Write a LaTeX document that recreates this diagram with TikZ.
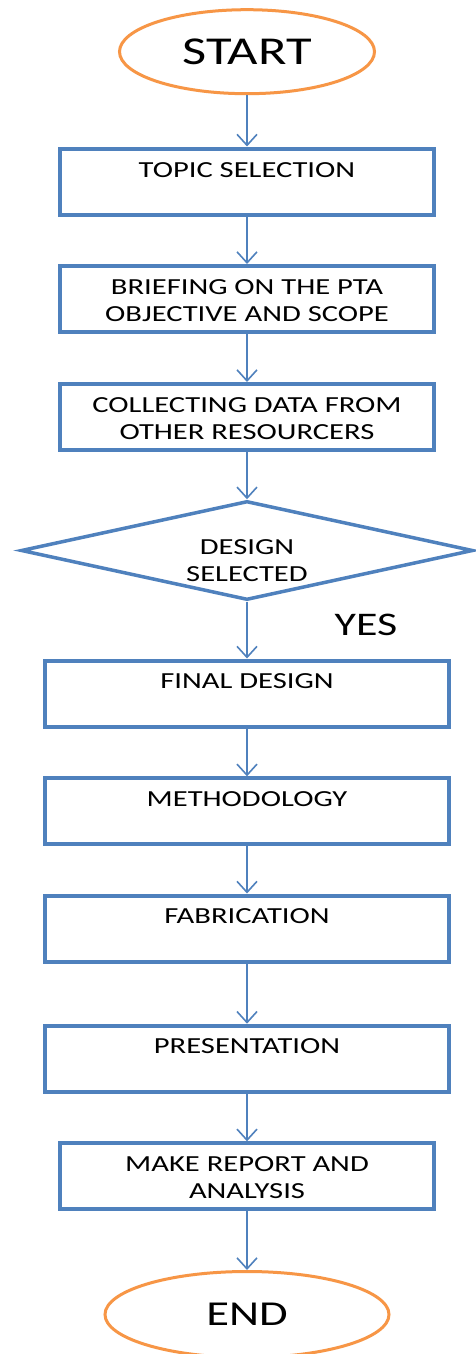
\documentclass[tikz,border=0pt]{standalone}
\usepackage{fontspec}
\setmainfont[FakeStretch=1.33]{Carlito}
\usetikzlibrary{arrows.meta,shapes.geometric}
\definecolor{flowblue}{HTML}{4F81BD}
\definecolor{termorange}{HTML}{F79646}
\begin{document}
\begin{tikzpicture}[x=1pt,y=-1pt,
  stepbox/.style={draw=flowblue,line width=4pt,minimum width=374pt,minimum height=66pt,inner sep=0pt},
  widebox/.style={stepbox,minimum width=404pt},
  terminal/.style={draw=termorange,line width=3pt,ellipse,inner sep=0pt},
  decision/.style={draw=flowblue,line width=3.5pt,diamond,inner sep=0pt,minimum width=452pt,minimum height=99pt},
  boxtext/.style={inner sep=0pt,anchor=north,align=center,text=black,font=\fontsize{23}{27.5}\selectfont},
  flow/.style={draw=flowblue,line width=1.6pt,-{Straight Barb[length=11pt,width=20pt]}}
]
\useasboundingbox (0,0) rectangle (476,1354);
\fill[white] (0,0) rectangle (476,1354);
\clip (0,0) rectangle (476,1354);

% terminals
\node[terminal,minimum width=255pt,minimum height=84pt,font=\fontsize{39.5}{47}\selectfont] (start) at (247,51.7) {START};
\node[terminal,minimum width=284pt,minimum height=86pt,font=\fontsize{35}{42}\selectfont] (end) at (247,1314.5) {END};

% process boxes
\node[stepbox] (topic) at (247,181.5) {};
\node[boxtext] (topic-t) at (247,162) {TOPIC SELECTION};

\node[stepbox] (brief) at (247,299) {};
\node[boxtext] (brief-t) at (247,279) {BRIEFING ON THE PTA\\OBJECTIVE AND SCOPE};

\node[stepbox] (collect) at (247,417) {};
\node[boxtext] (collect-t) at (247,397) {COLLECTING DATA FROM\\OTHER RESOURCERS};

% decision
\node[decision] (design) at (247,550.5) {};
\node[boxtext] (design-t) at (247,539) {DESIGN\\SELECTED};
\node[inner sep=0pt,anchor=north,font=\fontsize{33}{40}\selectfont] (yes) at (366,614) {YES};

\node[widebox] (final) at (247,693.5) {};
\node[boxtext] (final-t) at (247,673) {FINAL DESIGN};

\node[widebox] (meth) at (247,811.3) {};
\node[boxtext] (meth-t) at (247,791) {METHODOLOGY};

\node[widebox] (fab) at (247,928.5) {};
\node[boxtext] (fab-t) at (247,908) {FABRICATION};

\node[widebox] (pres) at (247,1058.7) {};
\node[boxtext] (pres-t) at (247,1038) {PRESENTATION};

\node[stepbox] (report) at (247,1176.3) {};
\node[boxtext] (report-t) at (247,1156) {MAKE REPORT AND\\ANALYSIS};

% connectors
\draw[flow] (start.south) -- (topic.north);
\draw[flow] (topic.south) -- (brief.north);
\draw[flow] (brief.south) -- (collect.north);
\draw[flow] (collect.south) -- (design.north);
\draw[flow] (design.south) -- (final.north);
\draw[flow] (final.south) -- (meth.north);
\draw[flow] (meth.south) -- (fab.north);
\draw[flow] (fab.south) -- (pres.north);
\draw[flow] (pres.south) -- (report.north);
\draw[flow] (report.south) -- (end.north);
\end{tikzpicture}
\end{document}
